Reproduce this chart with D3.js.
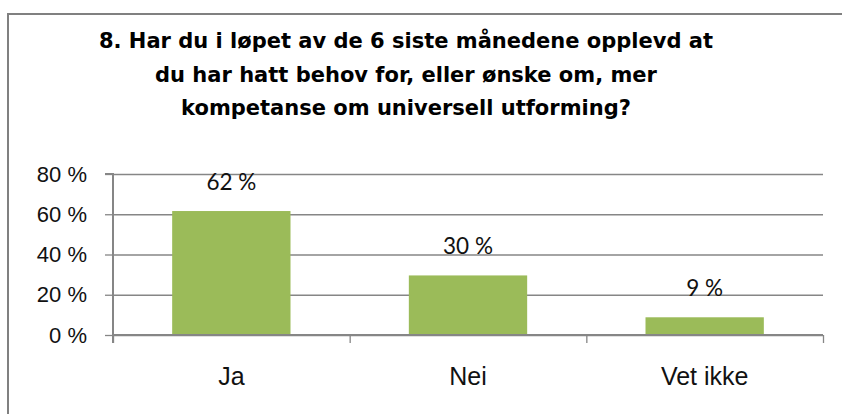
<!DOCTYPE html>
<html>
<head>
<meta charset="utf-8">
<script src="https://cdn.jsdelivr.net/npm/d3@7"></script>
<style>
	body { margin: 0; background: #fff; }
	svg { display: block; font-family: Lato, "Open Sans", sans-serif; }
</style>
</head>
<body>
<div id="chart"></div>
<script>
'use strict';

// survey question 8, share of answers
const titleLines = [
	"8. Har du i løpet av de 6 siste månedene opplevd at",
	"du har hatt behov for, eller ønske om, mer",
	"kompetanse om universell utforming?"];
const categories = ["Ja", "Nei", "Vet ikke"];
const values = [0.616, 0.296, 0.088];
const yTicks = [0, 0.2, 0.4, 0.6, 0.8];

const width = 842;
const height = 414;
const margin = {
	top: 174,
	right: 19,
	bottom: 79,
	left: 113 };

const innerW = width - margin.left - margin.right;
const innerH = height - margin.top - margin.bottom;
const grey = "#868686";
const pct = (d) => Math.round(d * 100) + " %";

const svg = d3
	.select("#chart")
	.append("svg")
		.attr("width", width)
		.attr("height", height)
	;

// outer frame, right and bottom edges fall outside the picture
svg.append("rect")
	.attr("x", 8)
	.attr("y", 14)
	.attr("width", 900)
	.attr("height", 500)
	.attr("fill", "#fff")
	.attr("stroke", "#808080")
	.attr("stroke-width", 2)
	;

svg.append("g")
	.selectAll("text")
	.data(titleLines)
	.join("text")
		.attr("x", 406)
		.attr("y", (d, i) => 48 + i * 33.5)
		.attr("text-anchor", "middle")
		.attr("font-family", "'DejaVu Sans', sans-serif")
		.attr("font-weight", "bold")
		.attr("font-size", 21)
		.attr("fill", "#000")
		.text(d => d)
	;

const bounds = svg.append("g")
	.attr("transform", `translate(${margin.left},${margin.top})`)
	;

const yScale = d3
	.scaleLinear()
	.domain([0, 0.8])
	.range([innerH, 0])
	;

const xScale = d3
	.scaleBand()
	.domain(categories)
	.range([0, innerW])
	.paddingInner(0.5)
	.paddingOuter(0.25)
	;

// gridlines
const grid = bounds.append("g")
	.call(d3.axisLeft(yScale).tickValues(yTicks).tickSize(-innerW).tickFormat(""))
	;
grid.select(".domain").remove();
grid.selectAll("line")
	.attr("stroke", grey)
	.attr("stroke-width", 1.3)
	;

// y axis
const yAxis = bounds.append("g")
	.call(d3.axisLeft(yScale)
		.tickValues(yTicks)
		.tickSize(8)
		.tickPadding(18)
		.tickFormat(pct))
	;
yAxis.select(".domain")
	.attr("stroke", grey)
	.attr("stroke-width", 2)
	.attr("d", `M-8,0H0V${innerH + 8}`)
	;
yAxis.selectAll("line").attr("stroke", grey).attr("stroke-width", 1.3);
yAxis.selectAll("text")
	.attr("font-size", 22)
	.attr("fill", "#111")
	;

// bars
bounds.append("g")
	.selectAll("rect")
	.data(values)
	.join("rect")
		.attr("x", (d, i) => xScale(categories[i]))
		.attr("y", d => yScale(d))
		.attr("width", xScale.bandwidth())
		.attr("height", d => innerH - yScale(d))
		.attr("fill", "#9bbb59")
	;

// x axis ticks sit between the categories
const edge = d3
	.scaleLinear()
	.domain([0, categories.length])
	.range([0, innerW])
	;
const xAxis = bounds.append("g")
	.attr("transform", `translate(0,${innerH})`)
	.call(d3.axisBottom(edge).ticks(categories.length).tickSize(8).tickFormat(""))
	;
xAxis.select(".domain")
	.attr("stroke", grey)
	.attr("stroke-width", 2)
	.attr("d", `M0,0H${innerW}`)
	;
xAxis.selectAll("line").attr("stroke", grey).attr("stroke-width", 1.3);

const xLabels = bounds.append("g")
	.attr("transform", `translate(0,${innerH})`)
	.call(d3.axisBottom(xScale).tickSize(0).tickPadding(0))
	;
xLabels.select(".domain").remove();
xLabels.selectAll("text")
	.attr("dy", null)
	.attr("y", 50)
	.attr("font-size", 25)
	.attr("fill", "#111")
	;

// data labels
bounds.append("g")
	.selectAll("text")
	.data(values)
	.join("text")
		.attr("x", (d, i) => xScale(categories[i]) + xScale.bandwidth() / 2)
		.attr("y", d => yScale(d) - 21)
		.attr("text-anchor", "middle")
		.attr("font-size", 22.5)
		.attr("fill", "#111")
		.text(pct)
	;
</script>
</body>
</html>
